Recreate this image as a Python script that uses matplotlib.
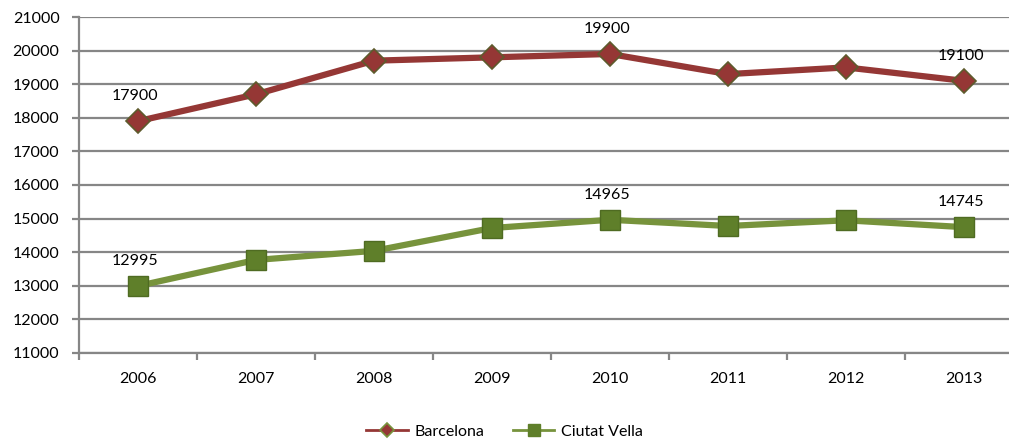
import matplotlib.pyplot as plt
from matplotlib.lines import Line2D
import numpy as np

plt.rcParams['font.family'] = ['Lato', 'DejaVu Sans']

years = ['2006', '2007', '2008', '2009', '2010', '2011', '2012', '2013']
barcelona = [17900, 18700, 19700, 19800, 19900, 19300, 19500, 19100]
ciutat_vella = [12995, 13770, 14040, 14720, 14965, 14780, 14950, 14745]
labelled = [0, 4, 7]

fig = plt.figure(figsize=(10.09, 4.42), dpi=100)
ax = fig.add_axes([79 / 1009, 89 / 442, 944 / 1009, 336 / 442])

x = np.arange(len(years))

red, red_edge = '#953735', '#5e5a2c'
green, green_line = '#5f7f2a', '#77933c'

ax.plot(x, barcelona, color=red, lw=4.5, marker='D', ms=12, mfc=red,
        mec=red_edge, mew=1.2, zorder=3)
ax.plot(x, ciutat_vella, color=green_line, lw=4.5, marker='s', ms=14,
        mfc=green, mec='#4f6b22', mew=1.0, zorder=3)

for i in labelled:
    ax.annotate(str(barcelona[i]), (x[i], barcelona[i]), xytext=(-2, 13),
                textcoords='offset points', ha='center', va='bottom', fontsize=11.5)
    ax.annotate(str(ciutat_vella[i]), (x[i], ciutat_vella[i]), xytext=(-2, 13),
                textcoords='offset points', ha='center', va='bottom', fontsize=11.5)

ax.set_xlim(-0.5, len(years) - 0.5)
ax.set_ylim(11000, 21000)
ax.set_yticks(np.arange(11000, 21001, 1000))
ax.set_xticks(x)
ax.set_xticklabels(years)
ax.set_xticks(np.arange(-0.5, len(years), 1), minor=True)

ax.grid(axis='y', color='#868686', lw=1.6)
ax.set_axisbelow(True)
for side in ['top', 'right']:
    ax.spines[side].set_visible(False)
for side in ['left', 'bottom']:
    ax.spines[side].set_color('#868686')
    ax.spines[side].set_linewidth(1.6)

ax.tick_params(axis='y', length=5, width=1.6, color='#868686', pad=9, labelsize=11.5)
ax.tick_params(axis='x', which='major', length=0, pad=14, labelsize=11.5)
ax.tick_params(axis='x', which='minor', length=5, width=1.6, color='#868686')

# thin legend keys with small markers
handles = [
    Line2D([], [], color=red, lw=2, marker='D', ms=7, mfc=red, mec='#77933c', mew=1.2),
    Line2D([], [], color=green_line, lw=2, marker='s', ms=9, mfc=green, mec=green),
]
fig.legend(handles, ['Barcelona', 'Ciutat Vella'], loc='lower center',
           bbox_to_anchor=(0.5, -0.025), ncol=2, frameon=False, fontsize=11.5,
           handlelength=2.6, handletextpad=0.4, columnspacing=1.8)

fig.savefig('out.png', dpi=100)
